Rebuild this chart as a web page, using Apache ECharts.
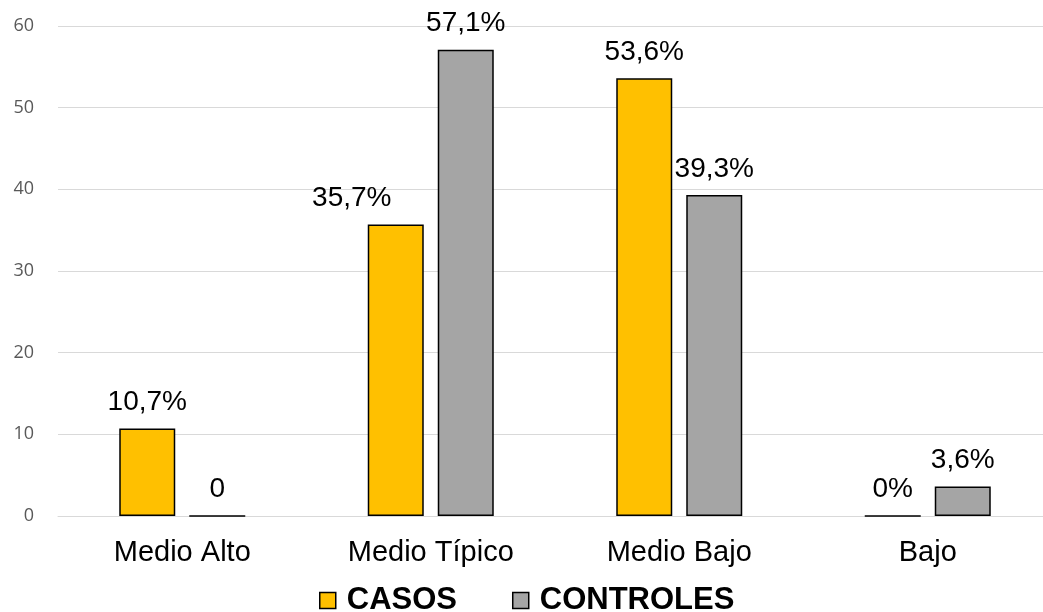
<!DOCTYPE html>
<html>
<head>
<meta charset="utf-8">
<script src="https://cdn.jsdelivr.net/npm/echarts@6/dist/echarts.min.js"></script>
<style>
  html, body { margin: 0; padding: 0; background: #fff; overflow: hidden; }
  #main { width: 1052px; height: 612px; }
</style>
</head>
<body>
<div id="main"></div>
<script>
// datos del grafico
var categorias = ['Medio Alto', 'Medio Típico', 'Medio Bajo', 'Bajo'];
var casos = [10.7, 35.7, 53.6, 0];
var controles = [0, 57.1, 39.3, 3.6];
var etiquetasCasos = ['10,7%', '35,7%', '53,6%', '0%'];
var etiquetasControles = ['0', '57,1%', '39,3%', '3,6%'];
var ticksY = [0, 10, 20, 30, 40, 50, 60];

var chart = echarts.init(document.getElementById('main'));

function armarSerie(valores, etiquetas, offsets) {
    return valores.map(function (v, i) {
        return {
            value: v,
            label: {
                formatter: etiquetas[i],
                offset: offsets[i] || [0, 0]
            }
        };
    });
}

var labelBase = {
    show: true,
    position: 'top',
    distance: 12,
    fontFamily: 'Liberation Sans',
    fontSize: 28,
    color: '#000'
};

var option = {
    animation: false,
    grid: {
        left: 58,
        right: 0,
        top: 26,
        bottom: 96
    },
    legend: {
        top: 580,
        left: 314,
        itemWidth: 16,
        itemHeight: 16,
        itemGap: 55,
        icon: 'rect',
        textStyle: {
            fontFamily: 'Liberation Sans',
            fontSize: 31,
            fontWeight: 'bold',
            color: '#000',
            padding: [0, 0, 0, 6]
        },
        itemStyle: {
            borderColor: '#000',
            borderWidth: 1.5
        },
        data: ['CASOS', 'CONTROLES']
    },
    xAxis: {
        type: 'category',
        data: categorias,
        axisTick: { show: false },
        axisLine: { lineStyle: { color: '#d9d9d9', width: 1 } },
        axisLabel: {
            fontFamily: 'Liberation Sans',
            fontSize: 29,
            color: '#000',
            margin: 22
        }
    },
    yAxis: {
        type: 'value',
        min: 0,
        max: 60,
        interval: 10,
        axisLine: { show: false },
        axisTick: { show: false },
        splitLine: { lineStyle: { color: '#d9d9d9', width: 1 } },
        axisLabel: {
            fontFamily: 'Open Sans',
            fontSize: 18,
            color: '#595959',
            margin: 24,
            formatter: function (v) {
                return ticksY.indexOf(v) >= 0 ? String(v) : '';
            }
        }
    },
    series: [
        {
            name: 'CASOS',
            type: 'bar',
            barWidth: 56,
            barGap: '25%',
            itemStyle: { color: '#FFC000', borderColor: '#000', borderWidth: 1.5 },
            label: labelBase,
            data: armarSerie(casos, etiquetasCasos, [null, [-44, 0], null, null])
        },
        {
            name: 'CONTROLES',
            type: 'bar',
            barWidth: 56,
            itemStyle: { color: '#A5A5A5', borderColor: '#000', borderWidth: 1.5 },
            label: labelBase,
            data: armarSerie(controles, etiquetasControles, [])
        }
    ]
};

chart.setOption(option);
</script>
</body>
</html>
